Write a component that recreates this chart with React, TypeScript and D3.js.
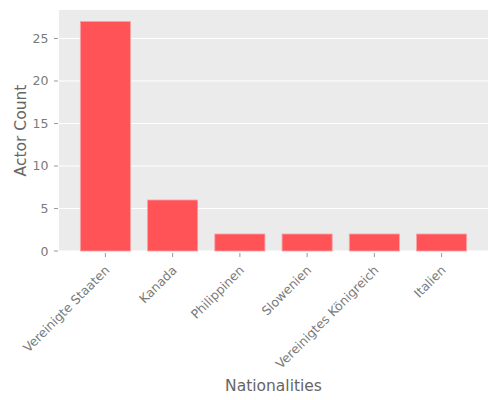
import React from "react";
import * as d3 from "d3";

const categories = ["Vereinigte Staaten", "Kanada", "Philippinen", "Slowenien", "Vereinigtes Königreich", "Italien"];
const counts = [27, 6, 2, 2, 2, 2];
const yTicks = [0, 5, 10, 15, 20, 25];

const W = 500, H = 400;
const left = 59, right = 488, top = 10, bottom = 251;

export default function App() {
  const x = d3.scaleLinear().domain([-0.69, categories.length - 1 + 0.69]).range([left, right]);
  const yMax = d3.max(counts)! * 1.05;
  const y = d3.scaleLinear().domain([0, yMax]).range([bottom, top]);
  const barW = x(0.745) - x(0);
  const font = "DejaVu Sans, sans-serif";
  return (
    <svg width={W} height={H} style={{ position: "absolute", left: 0, top: 0 }} fontFamily={font}>
      <rect x={0} y={0} width={W} height={H} fill="#fff" />
      <rect x={left} y={top} width={right - left} height={bottom - top} fill="#EBEBEB" />
      {yTicks.map((t) => (
        <g key={t}>
          <line x1={left} x2={right} y1={y(t)} y2={y(t)} stroke="#fff" strokeWidth={1} />
          <line x1={left - 5} x2={left - 1} y1={y(t)} y2={y(t)} stroke="#999" strokeWidth={1} />
          <text x={left - 10.5} y={y(t)} dy="0.36em" textAnchor="end" fontSize={12.5} fill="#7a7a7a">
            {t}
          </text>
        </g>
      ))}
      {counts.map((v, i) => (
        <rect
          key={i}
          x={x(i) - barW / 2}
          y={y(v)}
          width={barW}
          height={y(0) - y(v)}
          fill="#FF5357"
          stroke="#F7A3A6"
          strokeWidth={0.8}
        />
      ))}
      {categories.map((c, i) => (
        <g key={c}>
          <line x1={x(i)} x2={x(i)} y1={bottom + 2} y2={bottom + 6} stroke="#999" strokeWidth={1} />
          <text
            transform={`translate(${x(i) + 5},${271}) rotate(-45)`}
            textAnchor="end"
            fontSize={12.5}
            fill="#7a7a7a"
          >
            {c}
          </text>
        </g>
      ))}
      <text
        transform={`translate(${26},${(top + bottom) / 2}) rotate(-90)`}
        textAnchor="middle"
        fontSize={15.5}
        fill="#666"
      >
        Actor Count
      </text>
      <text x={(left + right) / 2} y={391} textAnchor="middle" fontSize={15.5} fill="#666">
        Nationalities
      </text>
    </svg>
  );
}
